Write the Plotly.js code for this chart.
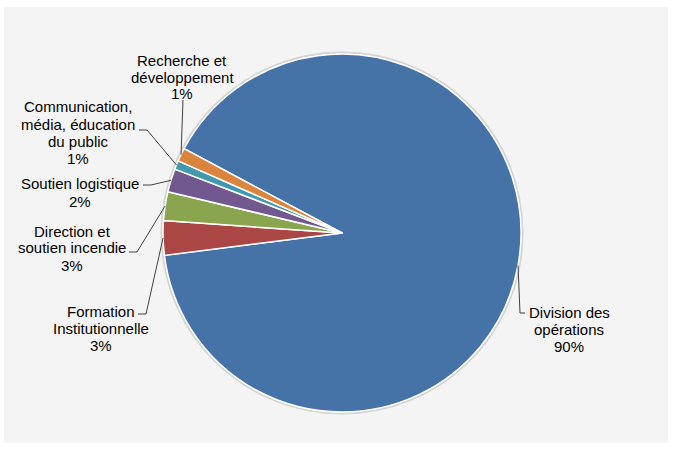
<!DOCTYPE html>
<html>
<head>
<meta charset="utf-8">
<script src="https://cdn.plot.ly/plotly-3.0.1.min.js"></script>
<style>html,body{margin:0;padding:0;background:#fff;}#chart{width:673px;height:451px;}</style>
</head>
<body>
<div id="chart"></div>
<script>
// ---- data ----
const categories = ['Division des opérations', 'Formation Institutionnelle', 'Direction et soutien incendie', 'Soutien logistique', 'Communication, média, éducation du public', 'Recherche et développement'];
const labelText = ['Division des<br>opérations', 'Formation<br>Institutionnelle', 'Direction et<br>soutien incendie', 'Soutien logistique', 'Communication,<br>média, éducation<br>du public', 'Recherche et<br>développement'];
const values = [90.2, 3.1, 2.6, 2.1, 0.8, 1.2];
const colors = ['#4572A7', '#AA4643', '#89A54E', '#71588F', '#4198AF', '#DB843D'];

// ---- layout geometry (style) ----
const W = 673, H = 451;
const M = {l: 4, r: 5, t: 7, b: 8};
const PW = W - M.l - M.r, PH = H - M.t - M.b;
const CX = 342, CY = 233, R = 179;
const ROT = 298.1;
const LINE_H = 17;
const px2x = px => (px - M.l) / PW;
const py2y = py => 1 - (py - M.t) / PH;

// label placement (pixel style): text centre, elbow point, end point
const labelStyle = [
  {c: [569, 329], elbow: [520, 313], end: [525, 313]},
  {c: [101, 328], elbow: [146, 314], end: [138, 314]},
  {c: [72, 248],  elbow: [137, 252], end: [129, 252]},
  {c: [80, 192.5], elbow: [151, 185], end: [143, 185]},
  {c: [78, 132.5], elbow: [147, 130], end: [139, 130]},
  {c: [182, 77],  elbow: [183, 100], end: [183, 100]}
];

const sum = values.reduce((a, b) => a + b, 0);
const annotations = [], shapes = [];

// grey plot background
shapes.push({type: 'rect', xref: 'paper', yref: 'paper', x0: 0, x1: 1, y0: 0, y1: 1,
  fillcolor: '#F4F4F4', line: {width: 0}, layer: 'below'});
// soft outline of the pie
shapes.push({type: 'circle', xref: 'paper', yref: 'paper',
  x0: px2x(CX - R - 1.5), x1: px2x(CX + R + 1.5), y0: py2y(CY + R + 1.5), y1: py2y(CY - R - 1.5),
  fillcolor: 'rgba(0,0,0,0)', line: {color: '#D4D4D4', width: 2}, layer: 'below'});

let acc = 0;
values.forEach((v, i) => {
  const midDeg = ROT + (acc + v / 2) / sum * 360;
  acc += v;
  const a = midDeg * Math.PI / 180;
  const ex = CX + R * Math.sin(a), ey = CY - R * Math.cos(a);
  const st = labelStyle[i];
  const pct = Math.round(v / sum * 100) + '%';
  const lines = labelText[i].split('<br>').concat([pct]);
  lines.forEach((ln, k) => {
    const yy = st.c[1] + (k - (lines.length - 1) / 2) * LINE_H;
    annotations.push({
      xref: 'paper', yref: 'paper', x: px2x(st.c[0]), y: py2y(yy),
      xanchor: 'center', yanchor: 'middle', align: 'center', showarrow: false,
      text: ln,
      font: {family: 'Liberation Sans, Arial, sans-serif', size: 15, color: '#000'}
    });
  });
  shapes.push({
    type: 'path', xref: 'paper', yref: 'paper',
    path: 'M' + px2x(ex) + ',' + py2y(ey) + ' L' + px2x(st.elbow[0]) + ',' + py2y(st.elbow[1]) +
          ' L' + px2x(st.end[0]) + ',' + py2y(st.end[1]),
    line: {color: '#404040', width: 1}
  });
});

const trace = {
  type: 'pie',
  labels: categories,
  values: values,
  sort: false,
  direction: 'clockwise',
  rotation: ROT,
  marker: {colors: colors, line: {color: '#FFFFFF', width: 1.5}},
  textinfo: 'none',
  hoverinfo: 'label+percent',
  showlegend: false,
  domain: {x: [px2x(CX - R), px2x(CX + R)], y: [py2y(CY + R), py2y(CY - R)]}
};

const layout = {
  width: W, height: H,
  margin: M,
  paper_bgcolor: '#FFFFFF',
  showlegend: false,
  shapes: shapes,
  annotations: annotations
};

Plotly.newPlot('chart', [trace], layout, {displayModeBar: false, staticPlot: true});
</script>
</body>
</html>
